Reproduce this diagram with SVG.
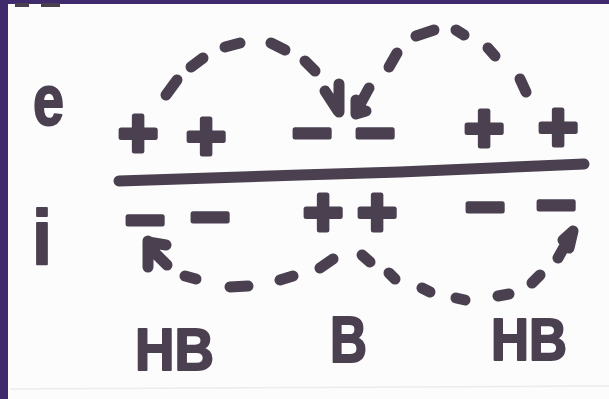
<svg xmlns="http://www.w3.org/2000/svg" width="609" height="399" viewBox="0 0 609 399">
<defs>
<style>
.ink{fill:#4a4050;stroke:#4a4050;stroke-linejoin:round;font-family:"Liberation Sans",Arial,sans-serif;font-weight:bold}
.sign{font-size:68px;stroke-width:5;text-anchor:middle}
.lbl{stroke-width:2}
.dash{fill:none;stroke:#4a4050;stroke-width:11;stroke-linecap:round;stroke-linejoin:round}
</style>
</defs>
<rect x="0" y="0" width="609" height="399" fill="#fcfcfc"/>
<path d="M10,389 L609,386" stroke="#ececec" stroke-width="1.5" fill="none"/>
<rect x="0" y="0" width="609" height="4" fill="#3f2b6b"/>
<rect x="0" y="0" width="8" height="399" fill="#3f2b6b"/>
<rect x="15" y="3" width="14" height="4" fill="#4a4050"/>
<rect x="41" y="3" width="19" height="4" fill="#4a4050"/>

<g id="membrane"><path class="dash" d="M119,181 L300,175 L400,172 L584,164" stroke-width="13"/></g>

<g id="label-e"><text class="ink lbl" x="33" y="125" font-size="72" textLength="31" lengthAdjust="spacingAndGlyphs">e</text></g>
<g id="label-i"><text class="ink lbl" x="32" y="265" font-size="78" textLength="20" lengthAdjust="spacingAndGlyphs">i</text></g>

<g id="e-plus-1"><text class="ink sign" x="138" y="156">+</text></g>
<g id="e-plus-2"><text class="ink sign" x="206" y="159">+</text></g>
<g id="e-minus-1"><text class="ink sign" x="312" y="156">−</text></g>
<g id="e-minus-2"><text class="ink sign" x="375" y="156">−</text></g>
<g id="e-plus-3"><text class="ink sign" x="484" y="151">+</text></g>
<g id="e-plus-4"><text class="ink sign" x="558" y="150">+</text></g>

<g id="i-minus-1"><text class="ink sign" x="145" y="243">−</text></g>
<g id="i-minus-2"><text class="ink sign" x="210" y="240">−</text></g>
<g id="i-plus-1"><text class="ink sign" x="323" y="235">+</text></g>
<g id="i-plus-2"><text class="ink sign" x="377" y="235">+</text></g>
<g id="i-minus-3"><text class="ink sign" x="485" y="230">−</text></g>
<g id="i-minus-4"><text class="ink sign" x="556" y="228">−</text></g>

<g id="label-HB-left"><text class="ink lbl" x="135" y="370" font-size="60" textLength="79" lengthAdjust="spacingAndGlyphs">HB</text></g>
<g id="label-B"><text class="ink lbl" x="330" y="362" font-size="65" textLength="37" lengthAdjust="spacingAndGlyphs">B</text></g>
<g id="label-HB-right"><text class="ink lbl" x="491" y="360" font-size="59" textLength="76" lengthAdjust="spacingAndGlyphs">HB</text></g>

<g id="connectors">
<g id="arc-upper-left">
<path class="dash" d="M166,95 L177,80"/>
<path class="dash" d="M191,67 L203,58"/>
<path class="dash" d="M225,47 L240,43"/>
<path class="dash" d="M271,43 L285,50"/>
<path class="dash" d="M305,61 L315,71"/>
<path class="dash" d="M339,84 L339,112 M325,91 L338,111" stroke-width="10"/>
</g>
<g id="arc-upper-right">
<path class="dash" d="M389,67 L397,53"/>
<path class="dash" d="M416,36 L434,30"/>
<path class="dash" d="M456,30 L464,35"/>
<path class="dash" d="M488,48 L495,56"/>
<path class="dash" d="M520,79 L526,92"/>
<path class="dash" d="M369,88 L356,112 M356,100 L356,114 L366,111" stroke-width="10"/>
</g>
<g id="arc-lower-left">
<path class="dash" d="M148,241 L148,267 M148,242 L166,245 M153,251 L167,265" stroke-width="10"/>
<path class="dash" d="M185,276 L196,279"/>
<path class="dash" d="M230,287 L248,286"/>
<path class="dash" d="M280,280 L293,276"/>
<path class="dash" d="M320,268 L333,259"/>
</g>
<g id="arc-lower-right">
<path class="dash" d="M362,255 L370,262"/>
<path class="dash" d="M389,273 L395,279"/>
<path class="dash" d="M422,288 L430,292"/>
<path class="dash" d="M456,298 L465,300"/>
<path class="dash" d="M498,296 L509,294"/>
<path class="dash" d="M532,283 L540,275"/>
<path class="dash" d="M558,258 L572,233 M563,240 L573,231 L569,248" stroke-width="10"/>
</g>
</g>
</svg>
